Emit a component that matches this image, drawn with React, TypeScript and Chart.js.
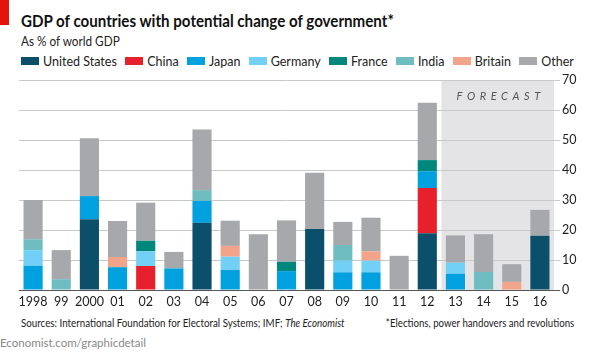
import React, { useEffect, useRef } from "react";
import { Chart, registerables } from "chart.js";

Chart.register(...registerables);

const categories = ["1998", "99", "2000", "01", "02", "03", "04", "05", "06", "07", "08", "09", "10", "11", "12", "13", "14", "15", "16"];
const unitedStates = [0, 0, 23.6, 0, 0, 0, 22.4, 0, 0, 0, 20.3, 0, 0, 0, 18.9, 0, 0, 0, 18.1];
const china = [0, 0, 0, 0, 8, 0, 0, 0, 0, 0, 0, 0, 0, 0, 15.1, 0, 0, 0, 0];
const japan = [8.1, 0, 7.7, 7.6, 0, 7.2, 7.3, 6.7, 0, 6.3, 0, 5.9, 5.9, 0, 5.6, 5.4, 0, 0, 0];
const germany = [5.2, 0, 0, 0, 4.9, 0, 0, 4.4, 0, 0, 0, 3.9, 3.9, 0, 0, 3.7, 0, 0, 0];
const france = [0, 0, 0, 0, 3.5, 0, 0, 0, 0, 3.1, 0, 0, 0, 0, 3.7, 0, 0, 0, 0];
const india = [3.6, 3.6, 0, 0, 0, 0, 3.6, 0, 0, 0, 0, 5.2, 0, 0, 0, 0, 6, 0, 0];
const britain = [0, 0, 0, 3.4, 0, 0, 0, 3.6, 0, 0, 0, 0, 3.1, 0, 0, 0, 0, 2.7, 0];
const other = [13.1, 9.7, 19.3, 12, 12.7, 5.5, 20.2, 8.4, 18.6, 13.8, 18.8, 7.7, 11.2, 11.4, 19.1, 9.1, 12.6, 5.9, 8.6];
const yTicks = [0, 10, 20, 30, 40, 50, 60, 70];
const forecastStart = "13";

const FONT = "Lato, 'Noto Sans', sans-serif";

const series = [
  { name: "United States", data: unitedStates, color: "#0c4f6b" },
  { name: "China", data: china, color: "#e8202b" },
  { name: "Japan", data: japan, color: "#00a1de" },
  { name: "Germany", data: germany, color: "#72cff5" },
  { name: "France", data: france, color: "#00877b" },
  { name: "India", data: india, color: "#6fbdc0" },
  { name: "Britain", data: britain, color: "#f2a48b" },
  { name: "Other", data: other, color: "#a6a8ab" },
];

const forecastPlugin = {
  id: "forecast",
  beforeDraw(chart: any) {
    const { ctx, chartArea, scales } = chart;
    const x = scales.x;
    const idx = categories.indexOf(forecastStart);
    const half = (x.getPixelForValue(1) - x.getPixelForValue(0)) / 2;
    const left = x.getPixelForValue(idx) - half;
    const right = chartArea.right;
    const top = scales.y.getPixelForValue(70);
    const bottom = chartArea.bottom;
    ctx.save();
    ctx.fillStyle = "#e4e4e7";
    ctx.fillRect(left, top + 1, right - left, bottom - top - 1);
    ctx.fillStyle = "#555";
    ctx.font = `italic 11px ${FONT}`;
    (ctx as any).letterSpacing = "4.6px";
    ctx.textAlign = "center";
    ctx.textBaseline = "middle";
    ctx.fillText("FORECAST", (left + right) / 2 + 3, top + 16);
    ctx.restore();
  },
};

const squeeze = (k: number, origin = "left") => ({
  transform: `scaleX(${k})`,
  transformOrigin: `${origin} center`,
});

export default function App() {
  const ref = useRef<HTMLCanvasElement>(null);
  useEffect(() => {
    if (!ref.current) return;
    const chart = new Chart(ref.current, {
      type: "bar",
      data: {
        labels: categories,
        datasets: series.map((s) => ({
          label: s.name,
          data: s.data,
          backgroundColor: s.color,
          borderWidth: 0,
          barPercentage: 0.68,
          categoryPercentage: 1,
        })),
      },
      options: {
        animation: false,
        responsive: false,
        maintainAspectRatio: false,
        layout: { padding: { left: 19, top: 10, right: 0, bottom: 0 } },
        plugins: { legend: { display: false }, tooltip: { enabled: false } },
        scales: {
          x: {
            stacked: true,
            grid: { display: false, drawTicks: false },
            border: { display: false },
            ticks: { color: "#222", font: { family: FONT, size: 12.5 }, padding: 4, maxRotation: 0, autoSkip: false },
            afterFit: (s: any) => { s.height = 25; },
          },
          y: {
            stacked: true,
            position: "right",
            min: 0,
            max: 70,
            afterBuildTicks: (s: any) => { s.ticks = yTicks.map((v) => ({ value: v })); },
            grid: {
              color: (c: any) => (c.tick && c.tick.value === 0 ? "#555" : "#c9c9c9"),
              lineWidth: 1,
              tickLength: 6,
              drawTicks: true,
            },
            border: { display: false },
            ticks: { color: "#222", font: { family: FONT, size: 12.5 }, padding: 2 },
            afterFit: (s: any) => { s.width = 41; },
          },
        },
      },
      plugins: [forecastPlugin],
    });
    return () => chart.destroy();
  }, []);

  return (
    <div style={{ position: "fixed", left: 0, top: 0, width: 595, height: 353, background: "#fff", fontFamily: FONT, overflow: "hidden" }}>
      <div style={{ position: "absolute", left: 0, top: 0, width: 9, height: 25, background: "#e3120b" }} />
      <div style={{ position: "absolute", left: 21, top: 10, fontSize: 17, fontWeight: 700, color: "#111", whiteSpace: "nowrap", ...squeeze(0.89) }}>
        GDP of countries with potential change of government*
      </div>
      <div style={{ position: "absolute", left: 21, top: 34, fontSize: 12.5, color: "#222", whiteSpace: "nowrap", ...squeeze(0.94) }}>
        As % of world GDP
      </div>
      <div style={{ position: "absolute", left: 21, width: 553, top: 53, height: 16, display: "flex", justifyContent: "space-between", alignItems: "center" }}>
        {series.map((s) => (
          <div key={s.name} style={{ display: "flex", alignItems: "center", fontSize: 12.5, color: "#222", whiteSpace: "nowrap" }}>
            <span style={{ display: "inline-block", width: 18, height: 8, background: s.color, marginRight: 4 }} />
            {s.name}
          </div>
        ))}
      </div>
      <canvas ref={ref} width={595} height={245} style={{ position: "absolute", left: 0, top: 70, width: 595, height: 245 }} />
      <div style={{ position: "absolute", left: 21, top: 316, fontSize: 11.5, color: "#222", whiteSpace: "nowrap", ...squeeze(0.85) }}>
        Sources: International Foundation for Electoral Systems; IMF; <i>The Economist</i>
      </div>
      <div style={{ position: "absolute", right: 21, top: 316, fontSize: 11.5, color: "#222", whiteSpace: "nowrap", ...squeeze(0.84, "right") }}>
        *Elections, power handovers and revolutions
      </div>
      <div style={{ position: "absolute", left: 0, top: 336, fontSize: 11.5, color: "#888", whiteSpace: "nowrap" }}>
        Economist.com/graphicdetail
      </div>
    </div>
  );
}
